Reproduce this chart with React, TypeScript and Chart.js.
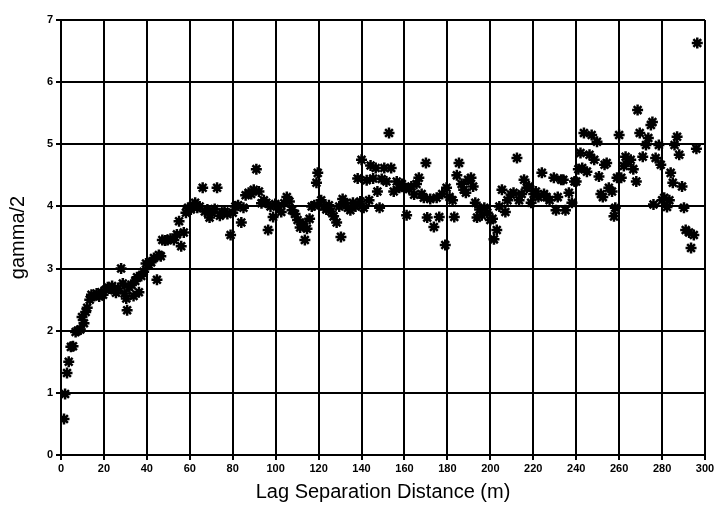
import React, { useEffect, useRef } from "react";
import { Chart, registerables } from "chart.js";

Chart.register(...registerables);

// Lag separation distance (m)
const lagX: number[] = [
  1.4, 1.9, 2.8, 3.6, 4.6, 5.6, 6.8, 7.8, 9.0, 9.8, 10.7, 11.5, 12.2, 13.4, 14.2, 15.5, 16.6, 17.8, 18.8, 19.6,
  20.8, 21.8, 22.8, 23.8, 24.8, 25.6, 26.6, 28.0, 28.8, 29.6, 30.4, 30.8, 31.8, 32.8, 33.8, 34.6, 35.4, 36.3, 37.4, 38.5, 39.6,
  40.8, 42.0, 43.3, 44.7, 45.6, 46.5, 47.2, 48.5, 49.6, 51.0, 52.6, 54.0, 55.0, 56.0, 57.2, 58.2, 59.2, 60.5,
  61.5, 62.5, 63.5, 64.6, 66.0, 67.0, 68.2, 69.2, 70.4, 71.6, 72.7, 74.0, 75.2, 76.2, 77.5, 79.0, 80.0,
  81.2, 82.5, 84.0, 85.0, 86.0, 87.4, 88.6, 89.8, 91.0, 92.2, 93.4, 94.5, 95.6, 96.5, 97.6, 98.8, 99.8,
  101.2, 102.6, 104.0, 105.2, 106.4, 107.6, 109.0, 110.2, 111.4, 112.6, 113.6, 114.6, 115.8, 116.8, 118.0, 119.0, 119.6,
  121.2, 122.4, 123.6, 124.8, 125.8, 127.0, 128.4, 129.6, 130.4, 131.2, 132.4, 133.6, 134.8, 136.0, 137.2, 138.2, 139.4, 140.0,
  141.0, 142.4, 143.5, 144.2, 145.4, 146.6, 147.4, 148.4, 149.4, 150.6, 151.6, 152.8, 153.8, 155.0, 156.4, 157.6, 158.8, 160.0,
  161.0, 162.2, 163.2, 164.5, 165.6, 166.7, 168.0, 169.0, 170.0, 170.6, 172.0, 173.7, 175.0, 176.2, 177.6, 179.0, 179.6,
  181.0, 182.4, 183.2, 184.4, 185.4, 186.6, 187.6, 188.6, 189.6, 191.0, 192.0, 193.0, 193.8, 195.0, 196.0, 197.2, 198.6, 200.0,
  201.0, 201.7, 203.0, 204.2, 205.4, 207.0, 208.0, 209.6, 210.8, 212.4, 213.4, 214.6, 215.7, 217.0, 218.0, 219.0, 220.2,
  221.2, 222.4, 224.0, 225.0, 226.2, 227.6, 229.6, 230.6, 231.4, 233.0, 234.0, 235.0, 236.6, 238.0, 239.2, 240.0,
  241.0, 242.0, 242.8, 243.6, 245.0, 246.2, 247.2, 248.4, 249.7, 250.6, 251.5, 252.4, 253.2, 254.2, 255.2, 256.7, 257.6, 258.2, 259.0, 260.0,
  261.0, 262.2, 263.0, 264.2, 265.4, 266.6, 268.0, 268.6, 269.6, 271.0, 272.5, 273.6, 274.8, 275.5, 276.0, 277.0, 278.5, 279.4, 280.0,
  281.0, 282.3, 283.4, 284.0, 285.0, 285.8, 287.0, 288.0, 289.3, 290.2, 291.0, 292.6, 293.5, 294.8, 296.0, 296.4,
];

// Semivariance gamma/2
const gammaY: number[] = [
  0.58, 0.98, 1.32, 1.5, 1.74, 1.75, 1.98, 2.0, 2.02, 2.22, 2.12, 2.3, 2.37, 2.5, 2.58, 2.56, 2.6, 2.55, 2.62, 2.58,
  2.66, 2.7, 2.68, 2.72, 2.65, 2.61, 2.68, 3.0, 2.76, 2.6, 2.52, 2.33, 2.7, 2.74, 2.56, 2.8, 2.86, 2.62, 2.88, 2.95, 3.08,
  3.06, 3.1, 3.17, 2.82, 3.22, 3.2, 3.46, 3.45, 3.46, 3.48, 3.46, 3.55, 3.76, 3.36, 3.58, 3.9, 3.98, 3.95,
  4.02, 4.06, 3.98, 4.0, 4.3, 3.92, 3.95, 3.82, 3.9, 3.96, 4.3, 3.85, 3.9, 3.92, 3.88, 3.54, 3.9,
  4.0, 4.02, 3.74, 3.98, 4.18, 4.22, 4.2, 4.27, 4.6, 4.24, 4.05, 4.1, 4.06, 3.62, 4.0, 3.83, 4.04,
  4.0, 3.91, 4.05, 4.15, 4.08, 3.94, 3.88, 3.78, 3.66, 3.72, 3.46, 3.64, 3.8, 4.0, 4.02, 4.38, 4.54,
  4.1, 4.0, 3.95, 4.02, 3.92, 3.84, 3.74, 4.0, 3.51, 4.12, 4.05, 3.98, 3.94, 4.06, 4.0, 4.45, 4.08, 4.75,
  3.98, 4.42, 4.1, 4.66, 4.45, 4.62, 4.24, 3.98, 4.44, 4.62, 4.4, 5.18, 4.62, 4.24, 4.4, 4.3, 4.36, 4.3,
  3.86, 4.28, 4.32, 4.19, 4.36, 4.46, 4.2, 4.14, 4.7, 3.82, 4.12, 3.67, 4.14, 3.83, 4.2, 3.38, 4.3,
  4.15, 4.1, 3.83, 4.5, 4.7, 4.36, 4.27, 4.22, 4.43, 4.46, 4.32, 4.06, 3.82, 3.95, 3.86, 3.98, 3.9, 3.78,
  3.8, 3.47, 3.62, 4.0, 4.27, 3.91, 4.1, 4.19, 4.22, 4.78, 4.1, 4.2, 4.43, 4.3, 4.32, 4.06, 4.2,
  4.24, 4.15, 4.54, 4.2, 4.15, 4.1, 4.46, 3.94, 4.15, 4.43, 4.43, 3.94, 4.22, 4.06, 4.4, 4.4,
  4.6, 4.86, 4.62, 5.18, 4.56, 4.83, 5.15, 4.75, 5.04, 4.48, 4.2, 4.15, 4.67, 4.7, 4.3, 4.24, 3.84, 3.98, 4.46, 5.15,
  4.46, 4.65, 4.8, 4.72, 4.75, 4.6, 4.4, 5.55, 5.18, 4.8, 4.99, 5.1, 5.31, 5.36, 4.03, 4.78, 4.99, 4.67, 4.1,
  4.14, 3.99, 4.1, 4.54, 4.38, 4.99, 5.12, 4.83, 4.32, 3.98, 3.62, 3.58, 3.33, 3.54, 4.93, 6.63,
];

const xTicksStep = 20;
const yTicksStep = 1;
const xTitle = "Lag Separation Distance (m)";
const yTitle = "gamma/2";

export default function App() {
  const canvasRef = useRef<HTMLCanvasElement | null>(null);

  useEffect(() => {
    if (!canvasRef.current) return;
    const points = lagX.map((x, i) => ({ x, y: gammaY[i] }));
    const tickFont = { family: "'Liberation Sans', Arial, sans-serif", size: 11, weight: "bold" as const };
    const titleFont = { family: "'Liberation Sans', Arial, sans-serif", size: 20 };
    const chart = new Chart(canvasRef.current, {
      type: "scatter",
      data: {
        datasets: [
          {
            data: points,
            pointStyle: "star",
            radius: 5.5,
            borderWidth: 2.5,
            borderColor: "#000",
            backgroundColor: "#000",
          },
        ],
      },
      options: {
        animation: false,
        responsive: false,
        layout: { padding: { left: 0, right: 17, top: 20, bottom: 0 } },
        plugins: { legend: { display: false }, tooltip: { enabled: false } },
        scales: {
          x: {
            type: "linear",
            min: 0,
            max: 300,
            ticks: {
              stepSize: xTicksStep,
              color: "#000",
              font: tickFont,
              padding: 2,
              autoSkip: false,
              maxRotation: 0,
            },
            grid: { color: "#000", lineWidth: 2, tickLength: 5, tickColor: "#000" },
            border: { color: "#000", width: 2 },
            title: { display: true, text: xTitle, color: "#000", font: titleFont, padding: { top: 0, bottom: 2 } },
            afterFit: (scale: any) => {
              scale.height = 51;
            },
          },
          y: {
            type: "linear",
            min: 0,
            max: 7,
            ticks: { stepSize: yTicksStep, color: "#000", font: tickFont, padding: 3 },
            grid: { color: "#000", lineWidth: 2, tickLength: 5, tickColor: "#000" },
            border: { color: "#000", width: 2 },
            title: { display: true, text: yTitle, color: "#000", font: titleFont, padding: { top: 6, bottom: 0 } },
            afterFit: (scale: any) => {
              scale.width = 61;
            },
          },
        },
      },
    });
    return () => chart.destroy();
  }, []);

  return (
    <div style={{ position: "fixed", left: 0, top: 0, width: 722, height: 506, background: "#fff" }}>
      <canvas ref={canvasRef} width={722} height={506} />
    </div>
  );
}
